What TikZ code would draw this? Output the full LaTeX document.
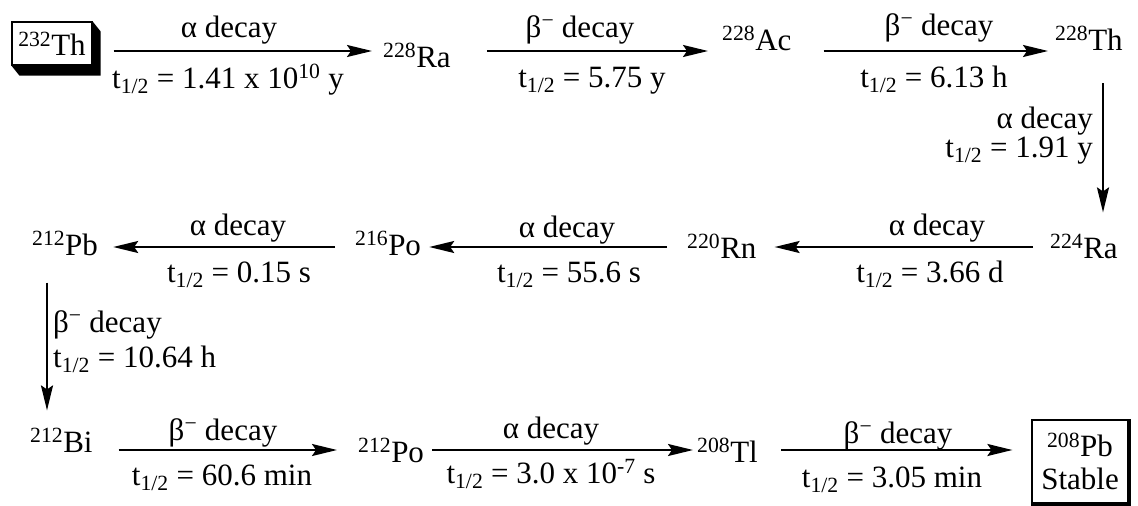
\documentclass[tikz,border=0pt]{standalone}
\usepackage{fontspec}
\setmainfont{Liberation Serif}
\usetikzlibrary{arrows.meta}
\begin{document}
\begin{tikzpicture}[x=1pt,y=-1pt,
  font=\fontsize{31}{33}\selectfont,
  nuc/.style={inner sep=0pt, anchor=base west},
  lab/.style={inner sep=0pt, anchor=base},
  labr/.style={inner sep=0pt, anchor=base east},
  labl/.style={inner sep=0pt, anchor=base west},
  arr/.style={line width=2pt, -{Stealth[length=25pt,width=12pt,inset=4pt]}},
  thbox/.style={draw, line width=1.2pt, fill=white, minimum width=80pt, minimum height=43pt, inner sep=0pt},
  pbbox/.style={draw, line width=1.2pt, minimum width=96pt, minimum height=83pt, inner sep=0pt, align=center},
]
\path[use as bounding box] (0,0) rectangle (1138,506);

% nuclides
\node[thbox] (th232) at (52,43.5) {\textsuperscript{232}Th};
\fill (th232.south west) -- ++(8,10) -- ([shift={(8,10)}]th232.south east)
  -- ([shift={(8,10)}]th232.north east) -- (th232.north east) -- (th232.south east) -- cycle;
\node[nuc] (ra228) at (383,67) {\textsuperscript{228}Ra};
\node[nuc] (ac228) at (722,50) {\textsuperscript{228}Ac};
\node[nuc] (th228) at (1055,50) {\textsuperscript{228}Th};
\node[nuc] (ra224) at (1050,258) {\textsuperscript{224}Ra};
\node[nuc] (rn220) at (687,258) {\textsuperscript{220}Rn};
\node[nuc] (po216) at (355,255) {\textsuperscript{216}Po};
\node[nuc] (pb212) at (32,255) {\textsuperscript{212}Pb};
\node[nuc] (bi212) at (30,452) {\textsuperscript{212}Bi};
\node[nuc] (po212) at (358,462) {\textsuperscript{212}Po};
\node[nuc] (tl208) at (697,462) {\textsuperscript{208}Tl};
\node[pbbox] (pb208) at (1080,461.5) {\textsuperscript{208}Pb\\Stable};
\draw[line width=1.5pt] ([shift={(1.5,0)}]pb208.north east) -- ([shift={(1.5,1.5)}]pb208.south east)
  -- ([shift={(0,1.5)}]pb208.south west);

% row coordinates
\coordinate (y1) at (0,51);
\coordinate (y2) at (0,247);
\coordinate (y3) at (0,450);
\coordinate (xv1) at (1103,0);
\coordinate (xv2) at (47,0);

% arrows
\draw[arr, shorten <=21pt, shorten >=11pt] (th232.east |- y1) -- (ra228.west |- y1);
\draw[arr, shorten <=36pt, shorten >=14pt] (ra228.east |- y1) -- (ac228.west |- y1);
\draw[arr, shorten <=32pt, shorten >=7pt] (ac228.east |- y1) -- (th228.west |- y1);
\draw[arr, shorten <=33pt, shorten >=22pt] (th228.south -| xv1) -- (ra224.north -| xv1);
\draw[arr, shorten <=17pt, shorten >=18pt] (ra224.west |- y2) -- (rn220.east |- y2);
\draw[arr, shorten <=20pt, shorten >=8pt] (rn220.west |- y2) -- (po216.east |- y2);
\draw[arr, shorten <=20pt, shorten >=15pt] (po216.west |- y2) -- (pb212.east |- y2);
\draw[arr, shorten <=27pt, shorten >=18pt] (pb212.south -| xv2) -- (bi212.north -| xv2);
\draw[arr, shorten <=26pt, shorten >=21pt] (bi212.east |- y3) -- (po212.west |- y3);
\draw[arr, shorten <=8pt, shorten >=4pt] (po212.east |- y3) -- (tl208.west |- y3);
\draw[arr, shorten <=23pt, shorten >=19pt] (tl208.east |- y3) -- (pb208.west |- y3);

% labels
\node[lab] (l1a) at (229,37) {α decay};
\node[lab] (l1b) at (228,88) {t\textsubscript{1/2} = 1.41 x 10\textsuperscript{10} y};
\node[lab] (l2a) at (580,37) {β\textsuperscript{−} decay};
\node[lab] (l2b) at (592,87) {t\textsubscript{1/2} = 5.75 y};
\node[lab] (l3a) at (939,35) {β\textsuperscript{−} decay};
\node[lab] (l3b) at (934,87) {t\textsubscript{1/2} = 6.13 h};
\node[labr] (l4a) at (1093,128) {α decay};
\node[labr] (l4b) at (1093,157) {t\textsubscript{1/2} = 1.91 y};
\node[lab] (l5a) at (937,235) {α decay};
\node[lab] (l5b) at (930,282) {t\textsubscript{1/2} = 3.66 d};
\node[lab] (l6a) at (567,237) {α decay};
\node[lab] (l6b) at (569,282) {t\textsubscript{1/2} = 55.6 s};
\node[lab] (l7a) at (238,235) {α decay};
\node[lab] (l7b) at (239,282) {t\textsubscript{1/2} = 0.15 s};
\node[labl] (l8a) at (53,332) {β\textsuperscript{−} decay};
\node[labl] (l8b) at (53,367) {t\textsubscript{1/2} = 10.64 h};
\node[lab] (l9a) at (223,440) {β\textsuperscript{−} decay};
\node[lab] (l9b) at (222,485) {t\textsubscript{1/2} = 60.6 min};
\node[lab] (l10a) at (551,438) {α decay};
\node[lab] (l10b) at (551,483) {t\textsubscript{1/2} = 3.0 x 10\textsuperscript{-7} s};
\node[lab] (l11a) at (898,443) {β\textsuperscript{−} decay};
\node[lab] (l11b) at (892,487) {t\textsubscript{1/2} = 3.05 min};
\end{tikzpicture}
\end{document}
